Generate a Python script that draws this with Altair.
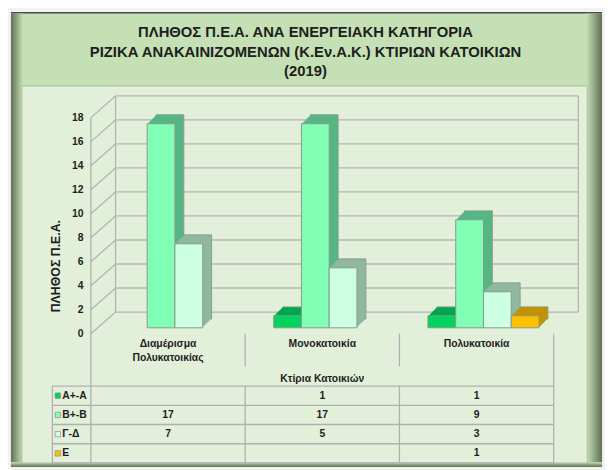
import altair as alt
import pandas as pd

# ---------------- data ----------------
categories = ["Διαμέρισμα\nΠολυκατοικίας", "Μονοκατοικία", "Πολυκατοικία"]
series = ["Α+-Α", "Β+-Β", "Γ-Δ", "Ε"]
values_a = [None, 1, 1]
values_b = [17, 17, 9]
values_g = [7, 5, 3]
values_e = [None, None, 1]
y_ticks = [0, 2, 4, 6, 8, 10, 12, 14, 16, 18]
title_lines = [
    "ΠΛΗΘΟΣ Π.Ε.Α. ΑΝΑ ΕΝΕΡΓΕΙΑΚΗ ΚΑΤΗΓΟΡΙΑ",
    "ΡΙΖΙΚΑ ΑΝΑΚΑΙΝΙΖΟΜΕΝΩΝ (Κ.Εν.Α.Κ.) ΚΤΙΡΙΩΝ ΚΑΤΟΙΚΙΩΝ",
    "(2019)",
]
y_title = "ΠΛΗΘΟΣ  Π.Ε.Α."
x_title = "Κτίρια Κατοικιών"

front_colors = ["#00d45e", "#80ffb4", "#ccffe4", "#ffc000"]
depth_colors = ["#00a84c", "#56b684", "#8fb89f", "#c49200"]

# ---------------- tables ----------------
all_values = [values_a, values_b, values_g, values_e]
rows = []
for s_i, (s, vals) in enumerate(zip(series, all_values)):
    for c, v in zip(categories, vals):
        rows.append({"cat": c, "series": s, "row": s_i + 0.5, "v": v,
                     "label": "" if v is None else str(v)})
df = pd.DataFrame(rows)
bars = df.dropna(subset=["v"]).copy()
leg_df = pd.DataFrame({"series": series, "row": [i + 0.5 for i in range(len(series))]})
cat_df = pd.DataFrame({"cat": categories})
tick_df = pd.DataFrame({"t": y_ticks})
dummy = pd.DataFrame({"d": [0]})

W, H = 573, 383
FONT = "Liberation Sans"
TXT = "#1e1e1e"
GRID = "#b4b4b4"

FRONT_L, BACK_L, BACK_R, FRONT_R = 70, 95, 564, 539
front_y = alt.Scale(domain=[0, 18], range=[251, 32], nice=False)
back_y = alt.Scale(domain=[0, 18], range=[229, 10], nice=False)
row_scale = alt.Scale(domain=[0, 4], range=[304, 382], nice=False, zero=False)
col_scale = alt.Scale(domain=[0, 3], range=[FRONT_L, FRONT_R], nice=False, zero=False)
cat_band = alt.Scale(domain=categories, range=[FRONT_L, FRONT_R], paddingInner=0, paddingOuter=0)


def deco_rect(x, x2, y, y2, **kw):
    return alt.Chart(dummy).mark_rect(**kw).encode(
        x=alt.value(x), x2=alt.value(x2), y=alt.value(y), y2=alt.value(y2))


def grad(c1, c2, horizontal=True):
    return {"gradient": "linear",
            "stops": [{"offset": 0, "color": c1}, {"offset": 1, "color": c2}],
            "x1": 0, "y1": 0, "x2": 1 if horizontal else 0, "y2": 0 if horizontal else 1}


layers = []
# outer frame
layers.append(deco_rect(-11, 588, -75, 386, fill="#c5e0b4"))
layers.append(deco_rect(-11, 588, -75, -73.5, fill="#4a4a4a"))
layers.append(deco_rect(-11, 1, -73.5, 386, fill=grad("#5f7054", "#c5e0b4")))
layers.append(deco_rect(572, 588, -73.5, 386, fill=grad("#c8e0b8", "#5f7054")))
layers.append(deco_rect(-11, 588, 381, 386, fill=grad("#c5e0b4", "#5f7054", False)))
# inner panel
layers.append(deco_rect(0, W, 0, H - 1, fill="#e2efd9", stroke="#b0bca8", strokeWidth=1))

# title
for i, (line, yy) in enumerate(zip(title_lines, [-55, -34, -15])):
    layers.append(alt.Chart(dummy).mark_text(
        text=line, font=FONT, fontSize=15, fontWeight="bold", color=TXT,
        align="center", baseline="middle").encode(x=alt.value(W / 2 + 1), y=alt.value(yy)))

# back wall grid lines
layers.append(alt.Chart(tick_df).mark_rule(color=GRID, strokeWidth=1.3).encode(
    y=alt.Y("t:Q", scale=back_y, axis=None), x=alt.value(BACK_L), x2=alt.value(BACK_R)))
for xx in (BACK_L, BACK_R):
    layers.append(alt.Chart(dummy).mark_rule(color=GRID, strokeWidth=1.3).encode(
        x=alt.value(xx), y=alt.value(10), y2=alt.value(229)))

# left wall diagonals + value axis
layers.append(alt.Chart(tick_df).mark_rule(color=GRID, strokeWidth=1.3, y2Offset=-22).encode(
    y=alt.Y("t:Q", scale=front_y,
            axis=alt.Axis(orient="left", offset=-FRONT_L, values=y_ticks, domain=False,
                          ticks=False, grid=False, labelPadding=8, labelFont=FONT,
                          labelFontSize=10.5, labelFontWeight="bold", labelColor=TXT,
                          title=y_title, titleFont=FONT, titleFontSize=12.5,
                          titleFontWeight="bold", titleColor=TXT, titleAngle=-90,
                          titleX=-36, titleY=182, titleAlign="center",
                          titleBaseline="middle", zindex=2)),
    y2="t:Q", x=alt.value(FRONT_L), x2=alt.value(BACK_L)))

# bars with pseudo 3D depth
DEPTH = 9


def bar_layer(k, colors, **kw):
    return alt.Chart(bars).mark_bar(**kw).encode(
        x=alt.X("cat:N", axis=None,
                scale=alt.Scale(domain=categories, range=[77 + k, 546 + k],
                                paddingInner=0.28, paddingOuter=0.14)),
        xOffset=alt.XOffset("series:N", scale=alt.Scale(domain=series)),
        y=alt.Y("v:Q", axis=None,
                scale=alt.Scale(domain=[0, 18], range=[245 - k, 26 - k], nice=False)),
        color=alt.Color("series:N", legend=None,
                        scale=alt.Scale(domain=series, range=colors)),
    )


for k in range(DEPTH, 0, -1):
    if k == DEPTH:
        layers.append(bar_layer(k, depth_colors, stroke="#8a9a8c", strokeWidth=1))
    else:
        layers.append(bar_layer(k, depth_colors, strokeWidth=0))
layers.append(bar_layer(0, front_colors, stroke="#8a9a8c", strokeWidth=1))

# table lines
TL = "#b0b0b0"
layers.append(alt.Chart(pd.DataFrame({"r": [0, 1, 2, 3, 4]})).mark_rule(color=TL, strokeWidth=1.3).encode(
    y=alt.Y("r:Q", scale=row_scale, axis=None), x=alt.value(31), x2=alt.value(FRONT_R)))
layers.append(alt.Chart(pd.DataFrame({"c": [0, 1, 2, 3]})).mark_rule(color=TL, strokeWidth=1.3).encode(
    x=alt.X("c:Q", scale=col_scale, axis=None), y=alt.value(304), y2=alt.value(382)))
layers.append(alt.Chart(pd.DataFrame({"c": [1, 2]})).mark_rule(color=TL, strokeWidth=1.3).encode(
    x=alt.X("c:Q", scale=col_scale, axis=None), y=alt.value(251), y2=alt.value(284)))
layers.append(alt.Chart(dummy).mark_rule(color=TL, strokeWidth=1.3).encode(
    x=alt.value(FRONT_R), y=alt.value(251), y2=alt.value(304)))
layers.append(alt.Chart(dummy).mark_rule(color=TL, strokeWidth=1.3).encode(
    x=alt.value(FRONT_L), y=alt.value(32), y2=alt.value(304)))
layers.append(alt.Chart(dummy).mark_rule(color=TL, strokeWidth=1.3).encode(
    x=alt.value(31), y=alt.value(304), y2=alt.value(382)))

# category labels and axis title
layers.append(alt.Chart(cat_df).mark_text(
    lineBreak="\n", baseline="top", font=FONT, fontSize=10.5, fontWeight="bold",
    lineHeight=15, color=TXT).encode(
    x=alt.X("cat:N", scale=cat_band, axis=None), y=alt.value(256), text="cat:N"))
layers.append(alt.Chart(dummy).mark_text(
    text=x_title, font=FONT, fontSize=10.5, fontWeight="bold", color=TXT,
    baseline="middle").encode(x=alt.value((FRONT_L + FRONT_R) / 2), y=alt.value(297)))

# table values
layers.append(alt.Chart(df).mark_text(
    font=FONT, fontSize=10.5, fontWeight="bold", color=TXT, baseline="middle").encode(
    x=alt.X("cat:N", scale=cat_band, axis=None),
    y=alt.Y("row:Q", scale=row_scale, axis=None), text="label:N"))

# legend keys inside table
layers.append(alt.Chart(leg_df).mark_square(size=30, opacity=1, stroke="#8a8a8a", strokeWidth=0.7).encode(
    x=alt.value(36.5), y=alt.Y("row:Q", scale=row_scale, axis=None),
    color=alt.Color("series:N", legend=None, scale=alt.Scale(domain=series, range=front_colors))))
layers.append(alt.Chart(leg_df).mark_text(
    font=FONT, fontSize=10.5, fontWeight="bold", color=TXT, align="left", baseline="middle").encode(
    x=alt.value(41), y=alt.Y("row:Q", scale=row_scale, axis=None), text="series:N"))

chart = alt.layer(*layers).resolve_scale(
    x="independent", y="independent", color="independent", xOffset="independent"
).properties(
    width=W, height=H,
    padding={"left": 14, "top": 76, "right": 18, "bottom": 3},
    autosize=alt.AutoSizeParams(type="none"),
    background="#f2f2f2",
).configure_view(stroke=None)

chart.save("out.html", embed_options={"renderer": "svg", "actions": False})
